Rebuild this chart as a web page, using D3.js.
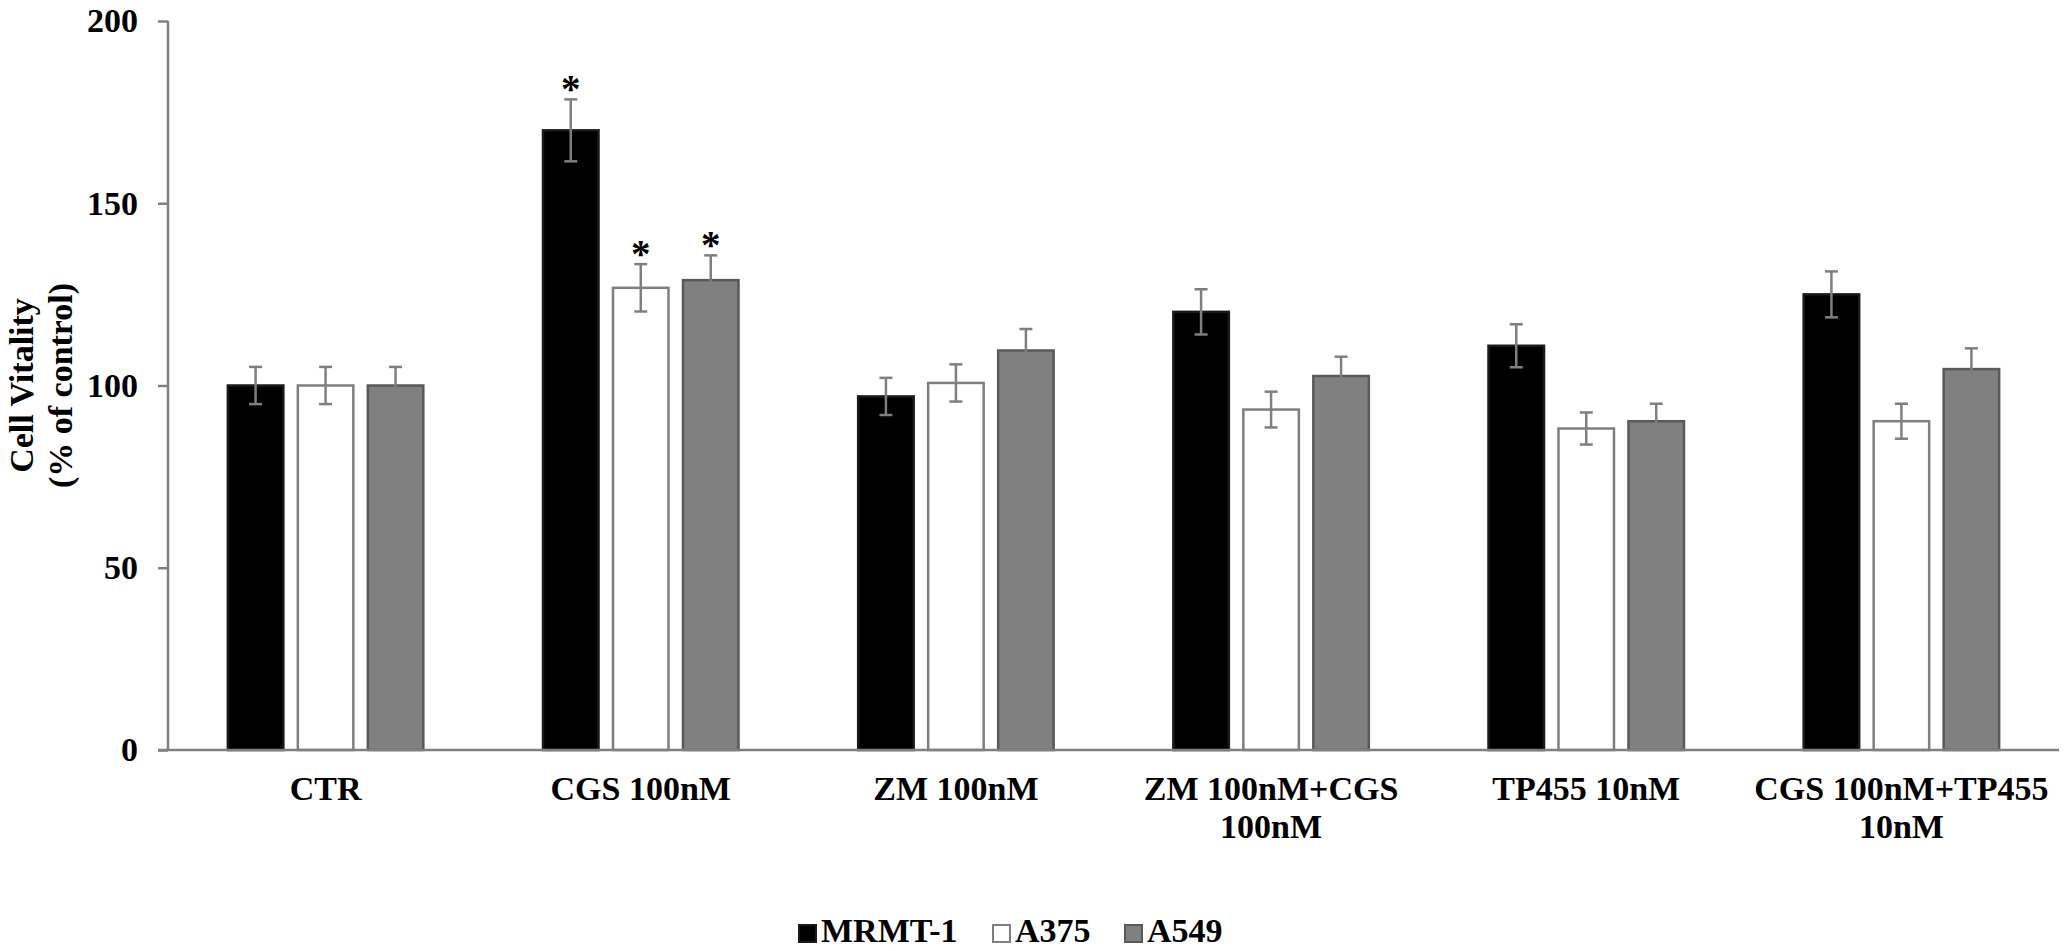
<!DOCTYPE html>
<html>
<head>
<meta charset="utf-8">
<script src="https://cdn.jsdelivr.net/npm/d3@7"></script>
<style>
  html, body { margin: 0; padding: 0; background: #fff; }
  svg text { font-family: "Liberation Serif", "Times New Roman", serif; font-weight: bold; fill: #000; }
</style>
</head>
<body>
<div id="chart"></div>
<script>
// data
const categories = ['CTR', 'CGS 100nM', 'ZM 100nM', 'ZM 100nM+CGS 100nM', 'TP455 10nM', 'CGS 100nM+TP455 10nM'];
const categoryLines = [['CTR'], ['CGS 100nM'], ['ZM 100nM'], ['ZM 100nM+CGS', '100nM'], ['TP455 10nM'], ['CGS 100nM+TP455', '10nM']];
const series = ['MRMT-1', 'A375', 'A549'];
const mrmt1 = [100, 170, 97, 120.2, 110.9, 125];
const a375 = [100, 126.8, 100.7, 93.4, 88.2, 90.2];
const a549 = [100, 128.9, 109.6, 102.6, 90.2, 104.5];
const mrmt1Err = [5.1, 8.5, 5.1, 6.2, 5.9, 6.3];
const a375Err = [5.1, 6.5, 5.1, 4.9, 4.4, 4.8];
const a549Err = [5.1, 6.8, 5.9, 5.3, 4.8, 5.7];
const significant = [[false, true, false, false, false, false], [false, true, false, false, false, false], [false, true, false, false, false, false]];
const yTicks = [0, 50, 100, 150, 200];

const values = [mrmt1, a375, a549];
const errors = [mrmt1Err, a375Err, a549Err];
const fills = ['#000000', '#ffffff', '#808080'];
const strokes = ['#1a1a1a', '#7f7f7f', '#595959'];

const width = 2067, height = 951;
const margin = { top: 21, right: 8, bottom: 201, left: 168 };

const svg = d3.select('#chart').append('svg')
  .attr('width', width).attr('height', height);

const x0 = d3.scaleBand().domain(categories)
  .range([margin.left, width - margin.right]).paddingInner(0).paddingOuter(0);
const x1 = d3.scaleBand().domain(series)
  .range([0, x0.bandwidth()]).paddingInner(0.207).paddingOuter(0.855);
const y = d3.scaleLinear().domain([0, 200]).range([height - margin.bottom, margin.top]);

// rows for each bar
const rows = [];
categories.forEach((c, i) => {
  series.forEach((s, k) => {
    rows.push({ cat: c, ser: s, k, v: values[k][i], e: errors[k][i], sig: significant[k][i] });
  });
});

// bars
svg.append('g').selectAll('rect').data(rows).join('rect')
  .attr('x', d => x0(d.cat) + x1(d.ser))
  .attr('y', d => y(d.v))
  .attr('width', x1.bandwidth())
  .attr('height', d => y(0) - y(d.v))
  .attr('fill', d => fills[d.k])
  .attr('stroke', d => strokes[d.k])
  .attr('stroke-width', 2.5);

// error bars
const eg = svg.append('g').attr('stroke', '#7f7f7f').attr('stroke-width', 2.5);
rows.forEach(d => {
  const cx = x0(d.cat) + x1(d.ser) + x1.bandwidth() / 2;
  eg.append('line').attr('x1', cx).attr('x2', cx).attr('y1', y(d.v - d.e)).attr('y2', y(d.v + d.e));
  eg.append('line').attr('x1', cx - 6.5).attr('x2', cx + 6.5).attr('y1', y(d.v + d.e)).attr('y2', y(d.v + d.e));
  eg.append('line').attr('x1', cx - 6.5).attr('x2', cx + 6.5).attr('y1', y(d.v - d.e)).attr('y2', y(d.v - d.e));
});

// asterisks
svg.append('g').selectAll('text').data(rows.filter(d => d.sig)).join('text')
  .attr('x', d => x0(d.cat) + x1(d.ser) + x1.bandwidth() / 2)
  .attr('y', d => y(d.v + d.e) + 3)
  .attr('text-anchor', 'middle')
  .style('font-size', '39px')
  .text('*');

// y axis
const yAxis = svg.append('g').attr('transform', `translate(${margin.left},0)`)
  .call(d3.axisLeft(y).tickValues(yTicks).tickSize(10).tickPadding(20));
yAxis.selectAll('path, line').attr('stroke', '#808080').attr('stroke-width', 2.5);
yAxis.select('.domain').attr('d', `M0,${y(200)}V${y(0)}`);
yAxis.selectAll('text').style('font-size', '34px')
  .style('font-family', '"Liberation Serif", "Times New Roman", serif').style('font-weight', 'bold').attr('fill', '#000');

// x axis line
svg.append('line')
  .attr('x1', margin.left - 10).attr('x2', width - margin.right)
  .attr('y1', y(0)).attr('y2', y(0))
  .attr('stroke', '#808080').attr('stroke-width', 2.5);

// category labels
const lab = svg.append('g').selectAll('text').data(categories).join('text')
  .attr('text-anchor', 'middle')
  .style('font-size', '34px');
lab.each(function (c, i) {
  const t = d3.select(this);
  categoryLines[i].forEach((line, j) => {
    t.append('tspan')
      .attr('x', x0(c) + x0.bandwidth() / 2)
      .attr('y', 800 + j * 38)
      .text(line);
  });
});

// y axis title
const yt = svg.append('text')
  .attr('transform', `translate(33,${(y(0) + y(200)) / 2}) rotate(-90)`)
  .attr('text-anchor', 'middle')
  .style('font-size', '34px');
yt.append('tspan').attr('x', 0).attr('y', 0).text('Cell Vitality');
yt.append('tspan').attr('x', 0).attr('y', 39).text('(% of control)');

// legend
const legendX = [799, 993, 1125];
const lg = svg.append('g').selectAll('g').data(series).join('g')
  .attr('transform', (d, k) => `translate(${legendX[k]},925)`);
lg.append('rect')
  .attr('width', 17).attr('height', 17)
  .attr('fill', (d, k) => fills[k])
  .attr('stroke', (d, k) => strokes[k])
  .attr('stroke-width', 2);
lg.append('text')
  .attr('x', 22).attr('y', 17)
  .style('font-size', '34px')
  .text(d => d);
</script>
</body>
</html>
